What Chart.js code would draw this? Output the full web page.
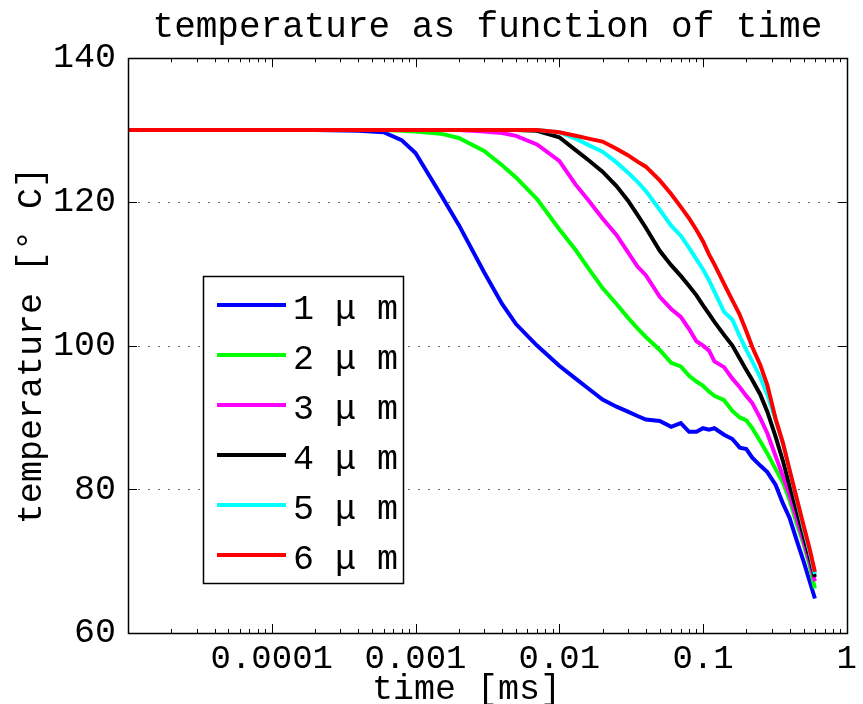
<!DOCTYPE html>
<html>
<head>
<meta charset="utf-8">
<script src="https://cdn.jsdelivr.net/npm/chart.js@4.4.0/dist/chart.umd.min.js"></script>
<style>
  html, body { margin: 0; padding: 0; background: #fff; }
  #wrap { width: 863px; height: 704px; }
</style>
</head>
<body>
<div id="wrap"><canvas id="tempChart" width="863" height="704"></canvas></div>
<script>
// time [ms] grid shared by all curves
const timeMs = [0.00001, 0.0001, 0.0002, 0.0004, 0.0006, 0.0008, 0.001, 0.0015, 0.002, 0.003, 0.004, 0.005, 0.007,
  0.01, 0.013, 0.016, 0.02, 0.025, 0.03, 0.035, 0.04, 0.05, 0.06, 0.07, 0.08, 0.09,
  0.1, 0.11, 0.12, 0.14, 0.16, 0.18, 0.2, 0.22, 0.25, 0.28, 0.32, 0.36, 0.4, 0.45, 0.5, 0.55, 0.6];

// temperature [°C] per layer thickness
const temp1um = [130, 130, 130, 129.9, 129.7, 128.6, 126.8, 121.0, 116.8, 110.2, 105.8, 103.0, 100.0,
  97.2, 95.4, 94.0, 92.5, 91.5, 90.8, 90.2, 89.7, 89.5, 88.7, 89.2, 88.0, 88.0,
  88.5, 88.3, 88.5, 87.6, 87.0, 85.8, 85.6, 84.4, 83.3, 82.4, 80.6, 78.0, 76.0, 72.8, 70.0, 67.3, 64.8];
const temp2um = [130, 130, 130, 130, 130, 129.9, 129.8, 129.5, 128.9, 127.1, 125.1, 123.4, 120.4,
  116.2, 113.3, 110.7, 108.0, 105.8, 103.9, 102.4, 101.2, 99.4, 97.6, 97.1, 95.8, 95.0,
  94.4, 93.6, 93.0, 92.4, 90.9, 90.0, 89.6, 88.5, 86.7, 85.0, 82.8, 80.9, 78.5, 75.1, 72.4, 69.5, 66.2];
const temp3um = [130, 130, 130, 130, 130, 130, 130, 130, 130, 129.8, 129.6, 129.2, 128.0,
  125.7, 122.4, 120.2, 117.7, 115.4, 113.0, 111.0, 109.8, 106.8, 105.1, 104.0, 102.3, 100.6,
  100.0, 99.3, 97.8, 97.0, 95.4, 94.2, 93.0, 92.0, 89.9, 87.8, 84.6, 81.8, 79.2, 75.8, 72.8, 70.0, 67.2];
const temp4um = [130, 130, 130, 130, 130, 130, 130, 130, 130, 130, 130, 130, 129.9,
  129.0, 127.2, 125.8, 124.2, 122.2, 120.2, 118.2, 116.4, 113.2, 111.2, 109.7, 108.3, 107.0,
  105.6, 104.4, 103.3, 101.5, 100.0, 98.2, 96.6, 95.2, 93.2, 90.8, 87.3, 83.9, 80.5, 76.9, 73.6, 70.6, 67.8];
const temp5um = [130, 130, 130, 130, 130, 130, 130, 130, 130, 130, 130, 130, 130,
  129.7, 128.8, 127.9, 127.0, 125.5, 124.1, 122.8, 121.5, 118.9, 116.7, 115.3, 113.6, 112.0,
  110.6, 109.1, 107.5, 104.7, 103.6, 101.3, 99.4, 97.8, 95.6, 93.2, 89.6, 86.4, 82.6, 78.4, 74.6, 71.4, 68.2];
const temp6um = [130, 130, 130, 130, 130, 130, 130, 130, 130, 130, 130, 130, 130,
  129.7, 129.2, 128.8, 128.4, 127.4, 126.5, 125.6, 124.9, 123.0, 121.1, 119.3, 117.7, 116.1,
  114.5, 112.7, 111.3, 108.6, 106.3, 104.3, 102.0, 99.8, 97.3, 94.5, 89.8, 86.4, 82.7, 78.6, 75.0, 71.8, 68.5];

const seriesLabels = ['1 μ m', '2 μ m', '3 μ m', '4 μ m', '5 μ m', '6 μ m'];
const seriesColors = ['#0000ff', '#00ff00', '#ff00ff', '#000000', '#00ffff', '#ff0000'];
const seriesValues = [temp1um, temp2um, temp3um, temp4um, temp5um, temp6um];

const xTickValues = [0.0001, 0.001, 0.01, 0.1, 1];
const xTickLabels = ['0.0001', '0.001', '0.01', '0.1', '1'];
const yTickValues = [60, 80, 100, 120, 140];

const FONT = "'Liberation Mono', 'Courier New', monospace";

// dotted grid, inward ticks, box frame and the legend box
const matlabAxes = {
  id: 'matlabAxes',
  beforeDatasetsDraw(chart) {
    const { ctx, chartArea: a, scales: { y } } = chart;
    ctx.save();
    ctx.strokeStyle = '#666';
    ctx.lineWidth = 1;
    ctx.setLineDash([2, 8]);
    yTickValues.slice(1, -1).forEach(v => {
      const py = Math.round(y.getPixelForValue(v)) + 0.5;
      ctx.beginPath();
      ctx.moveTo(a.left, py);
      ctx.lineTo(a.right, py);
      ctx.stroke();
    });
    ctx.restore();
  },
  afterDatasetsDraw(chart) {
    const { ctx, chartArea: a, scales: { x, y } } = chart;
    ctx.save();
    ctx.strokeStyle = '#000';
    ctx.lineWidth = 1;
    ctx.beginPath();
    // x ticks, major and minor, bottom and top
    for (let d = 0.00001; d < 1.5; d *= 10) {
      for (let m = 1; m <= 9; m++) {
        const v = d * m;
        if (v > 1.0001) break;
        const px = Math.round(x.getPixelForValue(v)) + 0.5;
        const len = m === 1 ? 9 : 4;
        ctx.moveTo(px, a.bottom); ctx.lineTo(px, a.bottom - len);
        ctx.moveTo(px, a.top); ctx.lineTo(px, a.top + len);
      }
    }
    // y ticks, left and right
    yTickValues.forEach(v => {
      const py = Math.round(y.getPixelForValue(v)) + 0.5;
      ctx.moveTo(a.left, py); ctx.lineTo(a.left + 9, py);
      ctx.moveTo(a.right, py); ctx.lineTo(a.right - 9, py);
    });
    ctx.stroke();
    ctx.lineWidth = 1.5;
    ctx.strokeRect(Math.round(a.left) + 0.5, Math.round(a.top) + 0.5,
      Math.round(a.right - a.left), Math.round(a.bottom - a.top));

    // legend
    const bx = 203, by = 276, bw = 200, bh = 307;
    ctx.fillStyle = '#fff';
    ctx.fillRect(bx, by, bw, bh);
    ctx.lineWidth = 1.5;
    ctx.strokeStyle = '#000';
    ctx.strokeRect(bx + 0.5, by + 0.5, bw, bh);
    ctx.font = '35px ' + FONT;
    ctx.textBaseline = 'alphabetic';
    ctx.textAlign = 'left';
    chart.data.datasets.forEach((ds, i) => {
      const ly = by + 29 + i * 50;
      ctx.strokeStyle = ds.borderColor;
      ctx.lineWidth = 4;
      ctx.beginPath();
      ctx.moveTo(bx + 14, ly);
      ctx.lineTo(bx + 83, ly);
      ctx.stroke();
      ctx.fillStyle = '#000';
      ctx.fillText(ds.label, bx + 90, ly + 14);
    });
    ctx.restore();
  }
};

const datasets = seriesValues.map((vals, i) => ({
  label: seriesLabels[i],
  data: timeMs.map((t, j) => ({ x: t, y: vals[j] })),
  borderColor: seriesColors[i],
  backgroundColor: seriesColors[i],
  borderWidth: 4,
  pointRadius: 0,
  tension: 0,
  fill: false,
  order: seriesValues.length - i
}));

new Chart(document.getElementById('tempChart').getContext('2d'), {
  type: 'line',
  data: { datasets: datasets },
  options: {
    responsive: false,
    animation: false,
    layout: { padding: { left: 0, right: 10, top: 0, bottom: 0 } },
    plugins: {
      legend: { display: false },
      tooltip: { enabled: false },
      title: {
        display: true,
        fullSize: false,
        text: 'temperature as function of time',
        color: '#000',
        font: { family: FONT, size: 36, weight: 'normal' },
        padding: { top: 6, bottom: 9 }
      }
    },
    scales: {
      x: {
        type: 'logarithmic',
        min: 0.00001,
        max: 1,
        grid: { display: false, drawTicks: false },
        border: { display: false },
        afterBuildTicks: s => { s.ticks = xTickValues.map(v => ({ value: v })); },
        afterFit: s => { s.height = 71; },
        ticks: {
          autoSkip: false,
          maxRotation: 0,
          padding: 6,
          color: '#000',
          font: { family: FONT, size: 34 },
          callback: v => xTickLabels[xTickValues.indexOf(v)]
        },
        title: {
          display: true,
          text: 'time [ms]  ',
          color: '#000',
          font: { family: FONT, size: 35, lineHeight: 0.8 },
          padding: 0
        }
      },
      y: {
        min: 60,
        max: 140,
        grid: { display: false, drawTicks: false },
        border: { display: false },
        afterBuildTicks: s => { s.ticks = yTickValues.map(v => ({ value: v })); },
        afterFit: s => { s.width = 128; },
        ticks: {
          padding: 12,
          color: '#000',
          font: { family: FONT, size: 35 }
        },
        title: {
          display: true,
          text: 'temperature [° C]',
          color: '#000',
          font: { family: FONT, size: 35 },
          padding: { top: 11, bottom: 0 }
        }
      }
    }
  },
  plugins: [matlabAxes]
});
</script>
</body>
</html>
